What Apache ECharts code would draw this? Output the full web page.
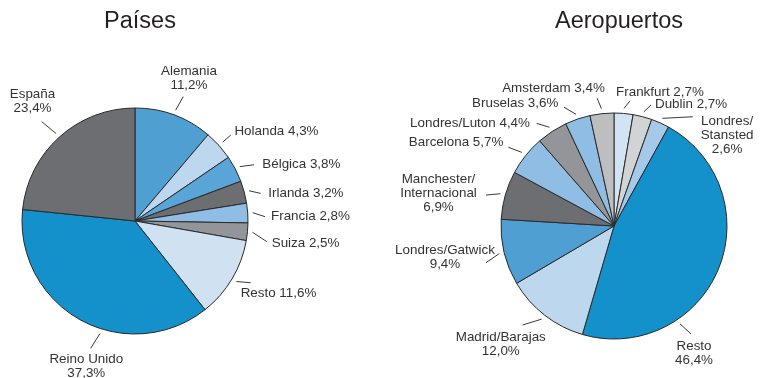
<!DOCTYPE html>
<html>
<head>
<meta charset="utf-8">
<script src="https://cdn.jsdelivr.net/npm/echarts@6/dist/echarts.min.js"></script>
<style>
  html, body { margin: 0; padding: 0; background: #ffffff; }
  #chart { width: 762px; height: 378px; }
</style>
</head>
<body>
<div id="chart"></div>
<script>
// ---- Data: share of passengers (%) ----
const paisesCategories = ['Alemania', 'Holanda', 'Bélgica', 'Irlanda', 'Francia', 'Suiza', 'Resto', 'Reino Unido', 'España'];
const paisesValues = [11.2, 4.3, 3.8, 3.2, 2.8, 2.5, 11.6, 37.3, 23.4];

const aeropuertosCategories = ['Frankfurt', 'Dublin', 'Londres/Stansted', 'Resto', 'Madrid/Barajas', 'Londres/Gatwick',
  'Manchester/Internacional', 'Barcelona', 'Londres/Luton', 'Bruselas', 'Amsterdam'];
const aeropuertosValues = [2.7, 2.7, 2.6, 46.4, 12.0, 9.4, 6.9, 5.7, 4.4, 3.6, 3.4];

const titles = ['Países', 'Aeropuertos'];

// ---- Slice colours ----
const paisesColors = ['#4f9fd3', '#bdd7ee', '#5aa5d8', '#6d6e72', '#8fbde3', '#939598', '#d0e1f2', '#1490ca', '#6d6e72'];
const aeropuertosColors = ['#d2e4f4', '#d1d3d4', '#a6c9ea', '#1490ca', '#bdd7ee', '#4f9fd3', '#6d6e72', '#90bde3',
  '#939598', '#8fbde3', '#bcbec0'];

// ---- Pie geometry ----
const PIE_R = 113;
const paisesCenter = [135, 221];
const aeropuertosCenter = [614, 226];

// ---- Callout placement ----
// end: leader end as [angle clockwise from 12 o'clock, radius]; off: text offset from that end;
// wrap: 'line' = "name value", 'value' = value on its own line, 'slash' = break the name after '/';
// start: optional angle for the leader start (otherwise the slice middle).
const paisesCallouts = {
  'Alemania':    { end: [21.2, 133.4],  off: [5.7, -18],   align: 'center', wrap: 'value' },
  'Holanda':     { end: [48.1, 128.7],  off: [3.6, -4.2],  align: 'left',   wrap: 'line' },
  'Bélgica':     { end: [64.7, 131.6],  off: [8.3, -0.4],  align: 'left',   wrap: 'line' },
  'Irlanda':     { end: [77.6, 128.7],  off: [7.6, 0],     align: 'left',   wrap: 'line' },
  'Francia':     { end: [88.1, 130.1],  off: [6, 0],       align: 'left',   wrap: 'line' },
  'Suiza':       { end: [98.9, 133.3],  off: [5, 1.8],     align: 'left',   wrap: 'line' },
  'Resto':       { end: [118.1, 131.1], off: [-10, 10.6],  align: 'left',   wrap: 'line' },
  'Reino Unido': { end: [199.2, 134.8], off: [-4.4, 18.5], align: 'center', wrap: 'value', start: 197.3 },
  'España':      { end: [316.8, 136.3], off: [-9.2, -20.4], align: 'center', wrap: 'value' }
};
const aeropuertosCallouts = {
  'Frankfurt':                { end: [7.3, 126.3],   off: [-14, -8.7],  align: 'left',   wrap: 'line' },
  'Dublin':                   { end: [17, 126.5],    off: [4, -0.3],    align: 'left',   wrap: 'line' },
  'Londres/Stansted':         { end: [35.8, 134.7],  off: [34.3, 18.8], align: 'center', wrap: 'slash' },
  'Resto':                    { end: [144.5, 132.6], off: [3, 19.3],    align: 'center', wrap: 'value', start: 146 },
  'Madrid/Barajas':           { end: [222.7, 134.7], off: [-21.9, 19.3], align: 'center', wrap: 'value' },
  'Londres/Gatwick':          { end: [254, 133.2],   off: [-41, -5.7],  align: 'center', wrap: 'value' },
  'Manchester/Internacional': { end: [283.6, 131.7], off: [-47.5, -2],  align: 'center', wrap: 'slash' },
  'Barcelona':                { end: [306.7, 131.8], off: [-5, -4.5],   align: 'right',  wrap: 'line' },
  'Londres/Luton':            { end: [323, 128.5],   off: [-6.7, 0.2],  align: 'right',  wrap: 'line' },
  'Bruselas':                 { end: [337.2, 128.8], off: [-5.7, -3.8], align: 'right',  wrap: 'line' },
  'Amsterdam':                { end: [352.5, 128.8], off: [7.7, -10.3], align: 'right',  wrap: 'line' }
};

const FONT = "'Liberation Sans', Arial, Helvetica, sans-serif";

function pct(v) {
  return v.toFixed(1).replace('.', ',') + '%';
}

function labelText(callouts) {
  return function (p) {
    const c = callouts[p.name];
    const v = pct(p.value);
    if (c.wrap === 'line') return p.name + ' ' + v;
    if (c.wrap === 'slash') return p.name.replace('/', '/\n') + '\n' + v;
    return p.name + '\n' + v;
  };
}

function polar(center, angleDeg, r) {
  const a = angleDeg * Math.PI / 180;
  return [center[0] + r * Math.sin(a), center[1] - r * Math.cos(a)];
}

function calloutLayout(center, names, callouts) {
  return function (params) {
    const c = callouts[names[params.dataIndex]];
    let startAngle = c.start;
    if (startAngle == null) {
      const p0 = params.labelLinePoints[0];
      startAngle = Math.atan2(p0[0] - center[0], -(p0[1] - center[1])) * 180 / Math.PI;
    }
    const s = polar(center, startAngle, PIE_R + 5);
    const e = polar(center, c.end[0], c.end[1]);
    return {
      x: e[0] + c.off[0],
      y: e[1] + c.off[1],
      align: c.align,
      verticalAlign: 'middle',
      labelLinePoints: [s, e, e]
    };
  };
}

function pieSeries(names, values, colors, center, callouts) {
  return {
    type: 'pie',
    center: center,
    radius: PIE_R,
    startAngle: 90,
    clockwise: true,
    avoidLabelOverlap: false,
    silent: true,
    data: names.map((n, i) => ({ name: n, value: values[i], itemStyle: { color: colors[i] } })),
    itemStyle: { borderColor: '#2a2a2a', borderWidth: 1 },
    label: {
      show: true,
      position: 'outside',
      formatter: labelText(callouts),
      fontFamily: FONT,
      fontSize: 13.4,
      lineHeight: 14,
      color: '#333333'
    },
    labelLine: {
      show: true,
      length: 10,
      length2: 0,
      lineStyle: { color: '#3a3a3a', width: 1 }
    },
    labelLayout: calloutLayout(center, names, callouts),
    emphasis: { disabled: true }
  };
}

const chart = echarts.init(document.getElementById('chart'), null, { renderer: 'canvas' });
chart.setOption({
  animation: false,
  backgroundColor: '#ffffff',
  title: [
    { text: titles[0], left: paisesCenter[0], top: 5, textAlign: 'center',
      textStyle: { fontFamily: FONT, fontSize: 23.5, fontWeight: 'normal', color: '#231f20' } },
    { text: titles[1], left: aeropuertosCenter[0], top: 5, textAlign: 'center',
      textStyle: { fontFamily: FONT, fontSize: 23.5, fontWeight: 'normal', color: '#231f20' } }
  ],
  series: [
    pieSeries(paisesCategories, paisesValues, paisesColors, paisesCenter, paisesCallouts),
    pieSeries(aeropuertosCategories, aeropuertosValues, aeropuertosColors, aeropuertosCenter, aeropuertosCallouts)
  ]
});
</script>
</body>
</html>
